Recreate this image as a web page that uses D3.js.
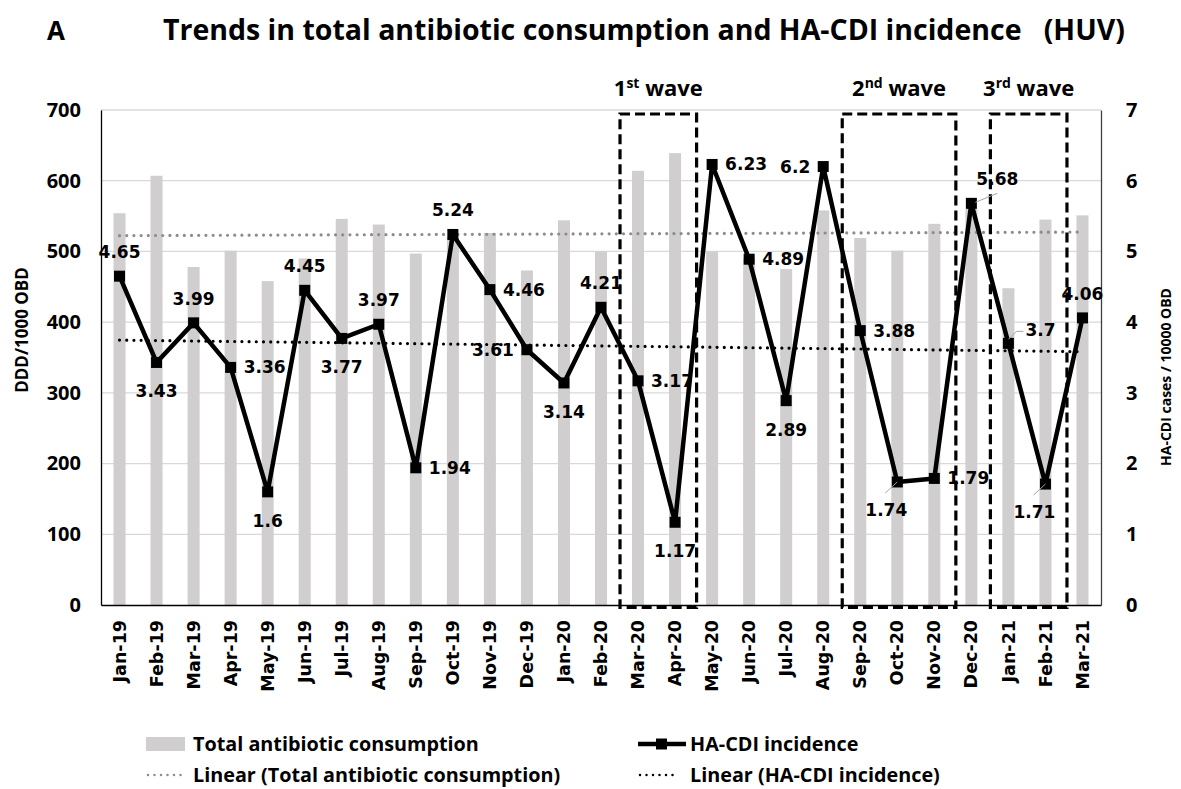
<!DOCTYPE html>
<html>
<head>
<meta charset="utf-8">
<script src="https://cdn.jsdelivr.net/npm/d3@7"></script>
<style>
  body { margin: 0; background: #fff; }
  .cal { font-family: "Open Sans", sans-serif; font-weight: bold; }
  .ver { font-family: "DejaVu Sans", Verdana, sans-serif; font-weight: bold; }
</style>
</head>
<body>
<div id="chart"></div>
<script>
// months on the x axis
var months = ["Jan-19","Feb-19","Mar-19","Apr-19","May-19","Jun-19","Jul-19","Aug-19","Sep-19","Oct-19","Nov-19","Dec-19",
  "Jan-20","Feb-20","Mar-20","Apr-20","May-20","Jun-20","Jul-20","Aug-20","Sep-20","Oct-20","Nov-20","Dec-20",
  "Jan-21","Feb-21","Mar-21"];

// total antibiotic consumption (DDD/1000 OBD)
var consumption = [554,607,478,501,458,490,546,538,497,520,526,473,
  544,500,614,639,500,490,475,558,519,501,539,560,448,545,551];

// HA-CDI incidence (cases / 10000 OBD), from the data labels
var incidence = [4.65,3.43,3.99,3.36,1.6,4.45,3.77,3.97,1.94,5.24,4.46,3.61,
  3.14,4.21,3.17,1.17,6.23,4.89,2.89,6.2,3.88,1.74,1.79,5.68,3.7,1.71,4.06];

// where each data label sits (see "off" below)
var labelPos = ["t","b","t","r","b","t","b","t","r","t","r","l",
  "b","t","r","b","r","r","b","l","r","bl","r","tr","rl","bl","t"];

var leftTicks = [0,100,200,300,400,500,600,700];
var rightTicks = [0,1,2,3,4,5,6,7];

var waves = [
  {name: "1", sup: "st", from: "Mar-20", to: "Apr-20"},
  {name: "2", sup: "nd", from: "Sep-20", to: "Nov-20"},
  {name: "3", sup: "rd", from: "Jan-21", to: "Feb-21"}
];

var svgWidth = 1181, svgHeight = 789;
var margin = {top: 110, bottom: 184, left: 101, right: 80};
var width = svgWidth - margin.left - margin.right;
var height = svgHeight - margin.top - margin.bottom;

var svg = d3.select("#chart").append("svg")
  .attr("width", svgWidth)
  .attr("height", svgHeight);

// title
svg.append("text").attr("class", "cal")
  .attr("x", 47).attr("y", 40)
  .attr("font-size", 26)
  .text("A");
svg.append("text").attr("class", "cal")
  .attr("x", 163).attr("y", 40)
  .attr("font-size", 28.5)
  .attr("xml:space", "preserve")
  .text("Trends in total antibiotic consumption and HA-CDI incidence   (HUV)");

var chartGroup = svg.append("g")
  .attr("transform", `translate(${margin.left}, ${margin.top})`);

var xScale = d3.scaleBand().domain(months).range([0, width]);
var yLeft = d3.scaleLinear().domain([0, 700]).range([height, 0]);
var yRight = d3.scaleLinear().domain([0, 7]).range([height, 0]);
var cx = m => xScale(m) + xScale.bandwidth() / 2;

// gridlines
chartGroup.append("g")
  .selectAll("line")
  .data(leftTicks.slice(1))
  .enter().append("line")
  .attr("x1", 0).attr("x2", width)
  .attr("y1", d => yLeft(d)).attr("y2", d => yLeft(d))
  .attr("stroke", "#d9d9d9").attr("stroke-width", 1.3);

// bars
chartGroup.append("g")
  .selectAll("rect")
  .data(consumption)
  .enter().append("rect")
  .attr("x", (d, i) => cx(months[i]) - 6)
  .attr("width", 12)
  .attr("y", d => yLeft(d))
  .attr("height", d => height - yLeft(d))
  .attr("fill", "#d0cece");

// linear trend lines (least squares)
function trend(vals) {
  var n = vals.length;
  var mx = d3.mean(vals, (d, i) => i), my = d3.mean(vals);
  var sxy = d3.sum(vals, (d, i) => (i - mx) * (d - my));
  var sxx = d3.sum(vals, (d, i) => (i - mx) * (i - mx));
  var b = sxy / sxx, a = my - b * mx;
  return [a, a + b * (n - 1)];
}
var tc = trend(consumption);
chartGroup.append("line")
  .attr("x1", cx(months[0])).attr("x2", cx(months[months.length - 1]))
  .attr("y1", yLeft(tc[0])).attr("y2", yLeft(tc[1]))
  .attr("stroke", "#8c8c8c").attr("stroke-width", 3.2)
  .attr("stroke-linecap", "round").attr("stroke-dasharray", "0 7.2");

var ti = trend(incidence);
chartGroup.append("line")
  .attr("x1", cx(months[0])).attr("x2", cx(months[months.length - 1]))
  .attr("y1", yRight(ti[0])).attr("y2", yRight(ti[1]))
  .attr("stroke", "#000").attr("stroke-width", 3.2)
  .attr("stroke-linecap", "round").attr("stroke-dasharray", "0 7.2");

// axes
var xAxis = d3.axisBottom(xScale).tickSize(0);
var gx = chartGroup.append("g")
  .attr("transform", `translate(0, ${height})`)
  .call(xAxis);
gx.select(".domain").attr("stroke", "#000").attr("stroke-width", 1.3);
gx.selectAll("text")
  .attr("class", "ver")
  .attr("font-size", 17.5)
  .attr("fill", "#000")
  .attr("transform", "rotate(-90)")
  .attr("text-anchor", "end")
  .attr("dy", "0.35em")
  .attr("x", -15).attr("y", 0);

var yAxisL = d3.axisLeft(yLeft).tickValues(leftTicks).tickSize(0).tickPadding(20);
var gl = chartGroup.append("g").call(yAxisL);
gl.select(".domain").attr("stroke", "#000").attr("stroke-width", 1.3);
gl.selectAll("text").attr("class", "cal").attr("font-size", 20).attr("fill", "#000");

var yAxisR = d3.axisRight(yRight).tickValues(rightTicks).tickFormat(d3.format("d"))
  .tickSize(0).tickPadding(25);
var gr = chartGroup.append("g").attr("transform", `translate(${width}, 0)`).call(yAxisR);
gr.select(".domain").attr("stroke", "#404040").attr("stroke-width", 1.3);
gr.selectAll("text").attr("class", "cal").attr("font-size", 20).attr("fill", "#000");

// axis titles
svg.append("text").attr("class", "cal")
  .attr("transform", "translate(28, 330) rotate(-90)")
  .attr("text-anchor", "middle")
  .attr("font-size", 17)
  .text("DDD/1000 OBD");
svg.append("text").attr("class", "cal")
  .attr("transform", "translate(1171, 377) rotate(-90)")
  .attr("text-anchor", "middle")
  .attr("font-size", 14)
  .text("HA-CDI cases / 10000 OBD");

// wave boxes
waves.forEach(w => {
  var x0 = xScale(w.from) + 0.5;
  var x1 = xScale(w.to) + xScale.bandwidth() + 3;
  chartGroup.append("rect")
    .attr("x", x0).attr("y", 4)
    .attr("width", x1 - x0).attr("height", height - 1.5)
    .attr("fill", "none").attr("stroke", "#000")
    .attr("stroke-width", 3.2).attr("stroke-dasharray", "10 5");
  var t = chartGroup.append("text").attr("class", "cal")
    .attr("x", (x0 + x1) / 2).attr("y", -14)
    .attr("text-anchor", "middle")
    .attr("font-size", 22);
  t.append("tspan").text(w.name);
  t.append("tspan").attr("font-size", 14).attr("dy", -8).text(w.sup);
  t.append("tspan").attr("dy", 8).text(" wave");
});

// incidence line
var line = d3.line()
  .x((d, i) => cx(months[i]))
  .y(d => yRight(d));
chartGroup.append("path")
  .datum(incidence)
  .attr("d", line)
  .attr("fill", "none")
  .attr("stroke", "#000")
  .attr("stroke-width", 4.5)
  .attr("stroke-linejoin", "round");

chartGroup.append("g")
  .selectAll("rect")
  .data(incidence)
  .enter().append("rect")
  .attr("x", (d, i) => cx(months[i]) - 5.5)
  .attr("y", d => yRight(d) - 5.5)
  .attr("width", 11).attr("height", 11)
  .attr("fill", "#000");

// data labels, some with small leader lines
var off = {
  t: {dx: 0, dy: -18, anchor: "middle"},
  b: {dx: 0, dy: 35, anchor: "middle"},
  r: {dx: 13, dy: 6, anchor: "start"},
  l: {dx: -13, dy: 6, anchor: "end"},
  tr: {dx: 5, dy: -18, anchor: "start", lead: [4, -1, 26, -10]},
  rl: {dx: 17, dy: -7, anchor: "start", lead: [0, -4, 8, -12, 15, -12]},
  bl: {dx: -11, dy: 34, anchor: "middle", lead: [0, 0, -12, 11]}
};
var labels = chartGroup.append("g");
incidence.forEach((d, i) => {
  var o = off[labelPos[i]];
  var px = cx(months[i]), py = yRight(d);
  if (o.lead) {
    var pts = [];
    for (var k = 0; k < o.lead.length; k += 2) pts.push([px + o.lead[k], py + o.lead[k + 1]]);
    labels.append("path")
      .attr("d", d3.line()(pts))
      .attr("fill", "none").attr("stroke", "#a6a6a6").attr("stroke-width", 1);
  }
  labels.append("text")
    .attr("class", "ver")
    .attr("font-size", 17)
    .attr("x", px + o.dx)
    .attr("y", py + o.dy)
    .attr("text-anchor", o.anchor)
    .text(d);
});

// legend
var legend = svg.append("g").attr("class", "cal").attr("font-size", 19.8);
legend.append("rect").attr("x", 146).attr("y", 737).attr("width", 39).attr("height", 14).attr("fill", "#d0cece");
legend.append("text").attr("x", 193).attr("y", 751).text("Total antibiotic consumption");
legend.append("line").attr("x1", 638).attr("x2", 686).attr("y1", 744).attr("y2", 744)
  .attr("stroke", "#000").attr("stroke-width", 4.5);
legend.append("rect").attr("x", 656).attr("y", 738.5).attr("width", 11).attr("height", 11).attr("fill", "#000");
legend.append("text").attr("x", 690).attr("y", 751).text("HA-CDI incidence");
legend.append("line").attr("x1", 148).attr("x2", 182).attr("y1", 775).attr("y2", 775)
  .attr("stroke", "#8c8c8c").attr("stroke-width", 2.5)
  .attr("stroke-linecap", "round").attr("stroke-dasharray", "0 6.5");
legend.append("text").attr("x", 193).attr("y", 782).text("Linear (Total antibiotic consumption)");
legend.append("line").attr("x1", 640).attr("x2", 674).attr("y1", 775).attr("y2", 775)
  .attr("stroke", "#000").attr("stroke-width", 2.5)
  .attr("stroke-linecap", "round").attr("stroke-dasharray", "0 6.5");
legend.append("text").attr("x", 690).attr("y", 782).text("Linear (HA-CDI incidence)");
</script>
</body>
</html>
